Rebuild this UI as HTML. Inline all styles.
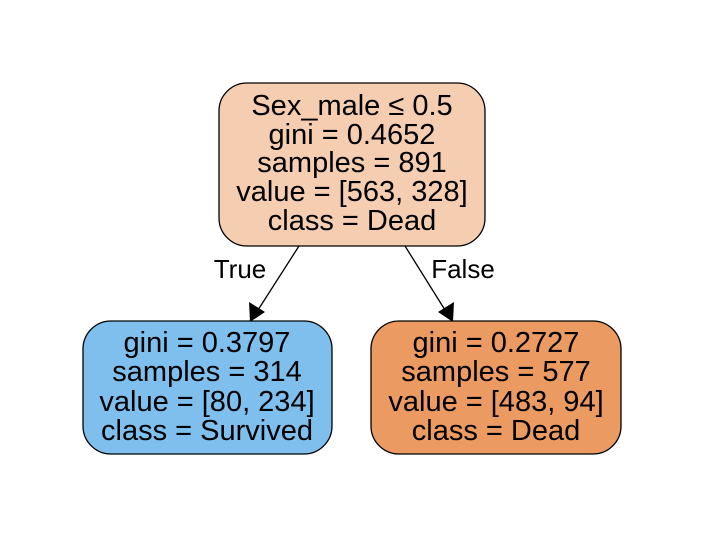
<!DOCTYPE html>
<html><head><meta charset="utf-8"><style>
html,body{margin:0;padding:0;background:#fff;}
svg{display:block;}
text{font-family:"Liberation Sans",Arial,sans-serif;font-size:29px;fill:#000;}
</style></head><body>
<svg width="704" height="537" viewBox="0 0 704 537">
<g>
<line x1="299" y1="246" x2="258" y2="310" stroke="#000" stroke-width="1.3"/>
<polygon points="250,322 249,302 265,312" fill="#000"/>
<text x="240" y="278" text-anchor="middle" style="font-size:26px">True</text>
</g>
<g>
<line x1="405" y1="246" x2="445" y2="310" stroke="#000" stroke-width="1.3"/>
<polygon points="453,322 438,312 454,302" fill="#000"/>
<text x="463" y="278" text-anchor="middle" style="font-size:26px">False</text>
</g>
<g>
<rect x="219" y="83" width="266" height="163" rx="28" fill="#f5cdb0" stroke="#000" stroke-width="1.3"/>
<text x="352" y="115" text-anchor="middle">Sex_male ≤ 0.5</text>
<text x="352" y="144" text-anchor="middle">gini = 0.4652</text>
<text x="352" y="172" text-anchor="middle">samples = 891</text>
<text x="352" y="201" text-anchor="middle">value = [563, 328]</text>
<text x="352" y="230" text-anchor="middle">class = Dead</text>
</g>
<g>
<rect x="83" y="321" width="249" height="133" rx="28" fill="#7ebfee" stroke="#000" stroke-width="1.3"/>
<text x="207" y="352" text-anchor="middle">gini = 0.3797</text>
<text x="207" y="381" text-anchor="middle">samples = 314</text>
<text x="207" y="411" text-anchor="middle">value = [80, 234]</text>
<text x="207" y="440" text-anchor="middle">class = Survived</text>
</g>
<g>
<rect x="371" y="321" width="250" height="133" rx="28" fill="#eb9a62" stroke="#000" stroke-width="1.3"/>
<text x="496" y="352" text-anchor="middle">gini = 0.2727</text>
<text x="496" y="381" text-anchor="middle">samples = 577</text>
<text x="496" y="411" text-anchor="middle">value = [483, 94]</text>
<text x="496" y="440" text-anchor="middle">class = Dead</text>
</g>
</svg>
</body></html>
